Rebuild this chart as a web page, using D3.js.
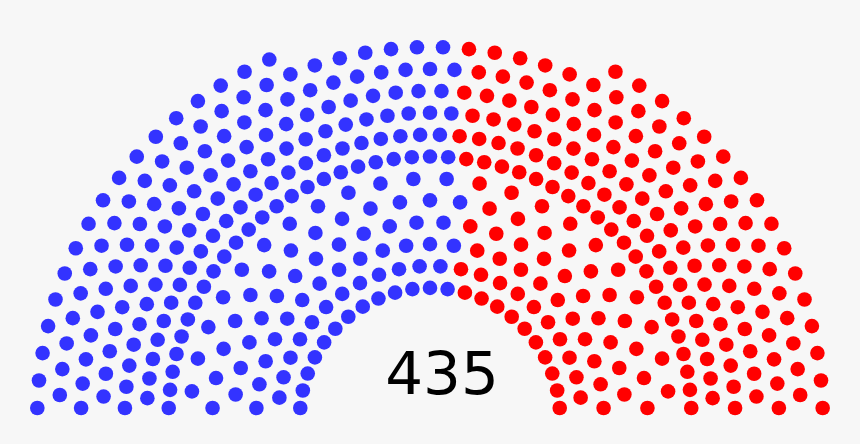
<!DOCTYPE html>
<html>
<head>
<meta charset="utf-8">
<script src="https://cdn.jsdelivr.net/npm/d3@7"></script>
<style>
  html, body { margin: 0; padding: 0; background: #f7f7f7; }
  svg { display: block; }
</style>
</head>
<body>
<svg id="chart" width="860" height="444"></svg>
<script>
// ---- data ----
const parties = ["Democratic", "Republican"];
const partySeats = [233, 202];
const partyColors = ["#3333ff", "#ff0000"];
const totalLabel = "435";
// seat grid (spokes) per row, inner to outer, and seats actually used per row
const rowGrid  = [23, 23, 23, 23, 23, 23, 45, 45, 45, 45, 45, 45, 45];
const rowSeats = [23, 22, 23, 22, 23, 22, 45, 44, 45, 44, 45, 44, 33];

// ---- layout ----
const W = 860, H = 444;
const cx = 430, cy = 418;
const bottomLift = 10;      // seat centre height above baseline for end seats
const dotR = 7.3;

const rScale = d3.scaleLinear().domain([0, rowGrid.length - 1]).range([130.1, 392.8]);
const color = d3.scaleOrdinal().domain(parties).range(partyColors);

const seats = [];
rowGrid.forEach((N, k) => {
  const R = rScale(k);
  const s = Math.asin(bottomLift / R);
  const step = (Math.PI - 2 * s) / (N - 1);
  const n = rowSeats[k];
  if (n === N) {
    for (let j = 0; j < N; j++) seats.push({ R, a: s + j * step, key: s + j * step });
  } else if (n === N - 1) {
    for (let j = 0; j < n; j++) seats.push({ R, a: s + (j + 0.5) * step, key: s + (j + 1) * step });
  } else {
    const left = Math.ceil(n / 2), right = n - left;
    for (let j = 0; j < left; j++) seats.push({ R, a: s + j * step, key: s + j * step });
    for (let j = N - right; j < N; j++) seats.push({ R, a: s + j * step, key: s + j * step });
  }
});
seats.sort((p, q) => p.key - q.key);

// assign parties in order from the left
let idx = 0;
parties.forEach((p, i) => {
  for (let c = 0; c < partySeats[i]; c++) seats[idx++].party = p;
});

const svg = d3.select("#chart");
svg.append("rect").attr("width", W).attr("height", H).attr("fill", "#f7f7f7");

svg.append("g")
  .selectAll("circle")
  .data(seats)
  .join("circle")
  .attr("cx", d => cx - d.R * Math.cos(d.a))
  .attr("cy", d => cy - d.R * Math.sin(d.a))
  .attr("r", dotR)
  .attr("fill", d => color(d.party));

svg.append("text")
  .attr("x", 442)
  .attr("y", 394)
  .attr("text-anchor", "middle")
  .attr("font-family", "DejaVu Sans, sans-serif")
  .attr("font-size", 59.5)
  .attr("fill", "#000")
  .text(totalLabel);
</script>
</body>
</html>
